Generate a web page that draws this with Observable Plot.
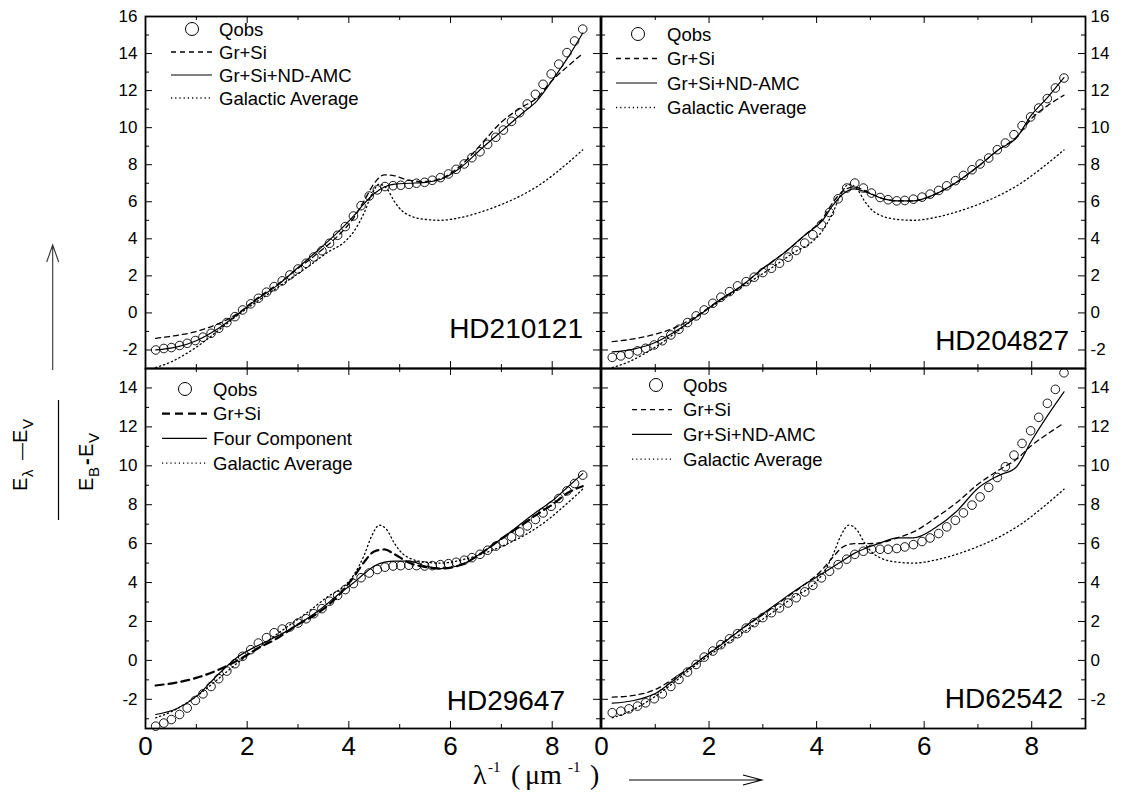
<!DOCTYPE html>
<html><head><meta charset="utf-8">
<script src="https://cdn.jsdelivr.net/npm/d3@7"></script>
<script src="https://cdn.jsdelivr.net/npm/@observablehq/plot@0.6"></script>
<style>
html,body{margin:0;padding:0;background:#fff;}
#wrap{position:relative;width:1124px;height:799px;overflow:hidden;background:#fff;}
#wrap svg{position:absolute;left:0;top:0;}
</style></head><body><div id="wrap"></div>
<script>
// ---------- data ----------
const qX = [0.2,0.36,0.51,0.67,0.82,0.98,1.13,1.29,1.44,1.6,1.76,1.91,2.07,2.22,2.38,2.53,2.69,2.84,3.0,3.16,3.31,3.47,3.62,3.78,3.93,4.09,4.24,4.4,4.56,4.71,4.87,5.02,5.18,5.33,5.49,5.64,5.8,5.96,6.11,6.27,6.42,6.58,6.73,6.89,7.04,7.2,7.36,7.51,7.67,7.82,7.98,8.13,8.29,8.44,8.6];
const qobsHD210121 = [-2.0,-1.92,-1.87,-1.76,-1.64,-1.49,-1.31,-1.1,-0.83,-0.52,-0.2,0.16,0.49,0.79,1.12,1.42,1.73,2.05,2.37,2.68,3.02,3.36,3.76,4.19,4.66,5.23,5.79,6.31,6.64,6.82,6.87,6.89,6.94,7.0,7.05,7.16,7.3,7.5,7.75,8.04,8.38,8.7,9.1,9.48,9.87,10.34,10.81,11.28,11.8,12.34,12.9,13.43,14.05,14.68,15.32];
const qobsHD204827 = [-2.4,-2.32,-2.22,-2.05,-1.91,-1.73,-1.5,-1.19,-0.88,-0.52,-0.16,0.16,0.52,0.85,1.15,1.46,1.69,1.93,2.18,2.41,2.68,3.01,3.37,3.77,4.22,4.76,5.42,6.16,6.74,7.01,6.74,6.47,6.23,6.11,6.05,6.07,6.14,6.25,6.41,6.61,6.86,7.14,7.42,7.73,8.04,8.36,8.81,9.17,9.62,10.11,10.58,11.06,11.57,12.14,12.68];
const qobsHD29647 = [-3.38,-3.22,-3.04,-2.78,-2.45,-2.06,-1.72,-1.34,-0.94,-0.55,-0.17,0.21,0.55,0.89,1.17,1.42,1.61,1.72,1.92,2.14,2.4,2.66,3.04,3.34,3.64,3.95,4.25,4.49,4.67,4.79,4.85,4.87,4.89,4.87,4.85,4.87,4.92,4.97,5.04,5.15,5.28,5.45,5.66,5.87,6.09,6.35,6.6,6.91,7.24,7.58,7.92,8.32,8.71,9.09,9.52];
const qobsHD62542 = [-2.69,-2.61,-2.49,-2.35,-2.18,-1.97,-1.72,-1.34,-0.98,-0.6,-0.21,0.17,0.48,0.81,1.11,1.37,1.66,1.94,2.2,2.45,2.69,2.95,3.22,3.52,3.86,4.24,4.58,4.92,5.2,5.45,5.61,5.71,5.71,5.71,5.75,5.83,5.95,6.11,6.29,6.52,6.86,7.2,7.58,7.98,8.4,8.89,9.4,9.95,10.55,11.15,11.8,12.49,13.21,13.93,14.78];

const curveX = [0.2,0.6,1.0,1.4,1.8,2.2,2.6,3.0,3.4,3.8,4.1,4.3,4.5,4.7,4.9,5.2,5.5,5.8,6.2,6.6,7.0,7.4,7.7,8.0,8.3,8.6];
const grSiHD210121 = [-1.37,-1.22,-1.0,-0.62,-0.05,0.8,1.55,2.4,3.25,4.2,5.15,6.05,7.0,7.45,7.4,7.15,7.1,7.25,7.95,9.1,10.3,11.1,11.6,12.55,13.3,14.0];
const fitHD210121  = [-2.0,-1.85,-1.5,-0.9,-0.1,0.75,1.5,2.45,3.4,4.4,5.25,5.9,6.45,6.8,6.95,7.0,7.05,7.2,7.85,8.85,9.8,10.75,11.45,12.55,13.75,15.1];
const grSiHD204827 = [-1.55,-1.4,-1.15,-0.75,-0.1,0.7,1.45,2.4,3.25,4.25,5.05,5.95,6.6,6.8,6.6,6.2,6.05,6.05,6.4,7.05,7.9,8.85,9.45,10.5,11.2,11.75];
const fitHD204827  = [-2.1,-1.95,-1.6,-0.95,-0.15,0.7,1.45,2.4,3.25,4.25,4.95,5.8,6.45,6.7,6.55,6.2,6.05,6.05,6.4,7.05,7.9,8.85,9.4,10.7,11.65,12.7];
const grSiHD29647  = [-1.29,-1.14,-0.9,-0.52,-0.02,0.6,1.15,1.85,2.45,3.35,4.3,5.05,5.6,5.7,5.45,5.0,4.8,4.72,4.9,5.5,6.25,6.95,7.5,8.0,8.6,8.95];
const fitHD29647   = [-2.78,-2.5,-1.85,-0.8,0.15,0.75,1.25,1.85,2.55,3.4,4.0,4.45,4.85,5.05,5.1,5.1,4.85,4.72,4.9,5.5,6.25,7.05,7.65,8.2,8.9,9.6];
const grSiHD62542  = [-1.89,-1.8,-1.5,-0.82,-0.05,0.8,1.6,2.35,3.15,3.95,4.65,5.3,5.85,6.0,6.0,6.05,6.3,6.6,7.3,8.1,9.05,9.8,10.3,11.05,11.65,12.2];
const fitHD62542   = [-2.2,-2.06,-1.7,-0.9,-0.05,0.75,1.6,2.4,3.2,3.95,4.45,4.8,5.15,5.5,5.75,6.05,6.3,6.3,6.8,7.65,8.85,9.52,9.9,11.3,12.6,13.8];

const galX   = [0.2,0.5,0.8,1.0,1.2,1.5,1.8,2.0,2.4,2.8,3.2,3.6,3.9,4.1,4.3,4.45,4.6,4.75,4.9,5.05,5.2,5.5,5.8,6.2,6.6,7.0,7.4,7.8,8.2,8.6];
const galAvg = [-2.95,-2.65,-2.2,-1.85,-1.45,-0.8,-0.15,0.25,1.0,1.75,2.5,3.3,3.8,4.4,5.4,6.4,6.95,6.7,6.0,5.5,5.25,5.05,5.0,5.15,5.45,5.85,6.35,7.0,7.85,8.8];

const stars = ["HD210121","HD204827","HD29647","HD62542"];
const legendLabels = ["Qobs","Gr+Si","Gr+Si+ND-AMC","Galactic Average"];
const legendLabelsHD29647 = ["Qobs","Gr+Si","Four Component","Galactic Average"];
const xMajor = [0,2,4,6,8];
const xMinor = [1,3,5,7];
const yMajorTop = [-2,0,2,4,6,8,10,12,14,16];
const yMinorTop = [-3,-1,1,3,5,7,9,11,13,15];
const yMajorBot = [-2,0,2,4,6,8,10,12,14];
const yMinorBot = [-3,-1,1,3,5,7,9,11,13,15];

// ---------- layout ----------
const W = 1124, H = 799;
const SANS = "'Liberation Sans', Arial, Helvetica, sans-serif";
const SERIF = "'Liberation Serif', 'Times New Roman', serif";
const panels = [
  {star: stars[0], qobs: qobsHD210121, grsi: grSiHD210121, fit: fitHD210121, labels: legendLabels,
   box: [145, 600, 16, 368], xDomain: [0, 8.95], yDomain: [-3, 16], yMaj: yMajorTop, yMin: yMinorTop,
   yAnchor: "left", xLabels: false, starPos: [583, 338],
   leg: {cx: 192, cy: 29, l0: 171, l1: 212, tx: 219, dy: 23}, thickDash: false},
  {star: stars[1], qobs: qobsHD204827, grsi: grSiHD204827, fit: fitHD204827, labels: legendLabels,
   box: [601, 1085, 16, 368], xDomain: [0, 9], yDomain: [-3, 16], yMaj: yMajorTop, yMin: yMinorTop,
   yAnchor: "right", xLabels: false, starPos: [1069, 350],
   leg: {cx: 638, cy: 34, l0: 616, l1: 657, tx: 667, dy: 24.5}, thickDash: false},
  {star: stars[2], qobs: qobsHD29647, grsi: grSiHD29647, fit: fitHD29647, labels: legendLabelsHD29647,
   box: [145, 600, 368, 728], xDomain: [0, 8.95], yDomain: [-3.5, 15], yMaj: yMajorBot, yMin: yMinorBot,
   yAnchor: "left", xLabels: true, starPos: [565, 710],
   leg: {cx: 185, cy: 389, l0: 162, l1: 207, tx: 213, dy: 24.7}, thickDash: true},
  {star: stars[3], qobs: qobsHD62542, grsi: grSiHD62542, fit: fitHD62542, labels: legendLabels,
   box: [601, 1085, 368, 728], xDomain: [0, 9], yDomain: [-3.5, 15], yMaj: yMajorBot, yMin: yMinorBot,
   yAnchor: "right", xLabels: true, starPos: [1063, 708],
   leg: {cx: 656, cy: 385, l0: 632, l1: 672, tx: 683, dy: 24.7}, thickDash: false}
];

const DOT_DASH = "1.2,3";
const wrap = document.getElementById("wrap");

function makePanel(p) {
  const [x0, x1, y0, y1] = p.box;
  const pw = x1 - x0, ph = y1 - y0;
  const obs = qX.map((x, i) => ({x, y: p.qobs[i]}));
  const grsi = curveX.map((x, i) => ({x, y: p.grsi[i]}));
  const fit = curveX.map((x, i) => ({x, y: p.fit[i]}));
  const gal = galX.map((x, i) => ({x, y: galAvg[i]}));
  const dashStyle = p.thickDash ? {strokeWidth: 2.2, strokeDasharray: "8,5"} : {strokeWidth: 1.3, strokeDasharray: "5,4"};
  const marks = [
    Plot.line(gal, {x: "x", y: "y", stroke: "black", strokeWidth: 1.3, strokeDasharray: DOT_DASH, curve: "monotone-x"}),
    Plot.line(grsi, {x: "x", y: "y", stroke: "black", ...dashStyle, curve: "monotone-x"}),
    Plot.line(fit, {x: "x", y: "y", stroke: "black", strokeWidth: 1.2, curve: "monotone-x"}),
    Plot.dot(obs, {x: "x", y: "y", r: 4.3, stroke: "black", fill: "none", strokeWidth: 0.9}),
    // inward ticks on all four sides
    Plot.tickX(xMajor, {x: d => d, insetTop: ph - 7, stroke: "black"}),
    Plot.tickX(xMajor, {x: d => d, insetBottom: ph - 7, stroke: "black"}),
    Plot.tickX(xMinor, {x: d => d, insetTop: ph - 4, stroke: "black"}),
    Plot.tickX(xMinor, {x: d => d, insetBottom: ph - 4, stroke: "black"}),
    Plot.tickY(p.yMaj, {y: d => d, insetRight: pw - 7, stroke: "black"}),
    Plot.tickY(p.yMaj, {y: d => d, insetLeft: pw - 7, stroke: "black"}),
    Plot.tickY(p.yMin, {y: d => d, insetRight: pw - 4, stroke: "black"}),
    Plot.tickY(p.yMin, {y: d => d, insetLeft: pw - 4, stroke: "black"}),
    Plot.frame({stroke: "black", strokeWidth: 1.8}),
    Plot.axisY({anchor: p.yAnchor, ticks: p.yMaj, tickSize: 0, tickPadding: p.yAnchor === "left" ? 8 : 5,
                tickFormat: d => String(d), fontSize: 17, label: null})
  ];
  if (p.xLabels) {
    marks.push(Plot.axisX({anchor: "bottom", ticks: xMajor, tickSize: 0, tickPadding: 8,
                           tickFormat: d => String(d), fontSize: 26, label: null}));
  }
  const svg = Plot.plot({
    width: W, height: H,
    marginLeft: x0, marginRight: W - x1, marginTop: y0, marginBottom: H - y1,
    x: {domain: p.xDomain, axis: null},
    y: {domain: p.yDomain, axis: null},
    style: {background: "transparent", fontFamily: SANS, color: "black", overflow: "visible"},
    marks
  });
  wrap.appendChild(svg);
}
panels.forEach(makePanel);

// ---------- overlay: legends, star names, axis titles ----------
const ov = d3.select(wrap).append("svg")
  .attr("width", W).attr("height", H)
  .style("font-family", SANS);

panels.forEach(p => {
  const g = ov.append("g");
  const L = p.leg;
  const dashStyle = p.thickDash ? {w: 2.2, d: "8,5"} : {w: 1.3, d: "5,4"};
  g.append("circle").attr("cx", L.cx).attr("cy", L.cy).attr("r", 6.5)
    .attr("fill", "none").attr("stroke", "black").attr("stroke-width", 1);
  const rows = [
    {w: dashStyle.w, d: dashStyle.d},
    {w: 1.2, d: null},
    {w: 1.3, d: DOT_DASH}
  ];
  rows.forEach((r, i) => {
    const y = L.cy + L.dy * (i + 1);
    const ln = g.append("line").attr("x1", L.l0).attr("x2", L.l1).attr("y1", y).attr("y2", y)
      .attr("stroke", "black").attr("stroke-width", r.w);
    if (r.d) ln.attr("stroke-dasharray", r.d);
  });
  p.labels.forEach((t, i) => {
    g.append("text").attr("x", L.tx).attr("y", L.cy + L.dy * i)
      .attr("dominant-baseline", "central").attr("font-size", 18.5).text(t);
  });
  g.append("text").attr("x", p.starPos[0]).attr("y", p.starPos[1])
    .attr("text-anchor", "end").attr("font-size", 28).text(p.star);
});

// y-axis title (fraction, rotated; local x = -screen y)
function rotText(bx, parts) {
  const t = ov.append("text").attr("transform", `translate(${bx},0) rotate(-90)`).attr("font-size", 20);
  parts.forEach(([s, pos, sub, extra]) => {
    const ts = t.append("tspan").attr("x", -pos).attr("y", sub ? 6 : 0).text(s);
    if (sub) ts.attr("font-size", 15);
    if (extra) Object.entries(extra).forEach(([k, v]) => ts.attr(k, v));
  });
}
rotText(27, [["E", 491, false], ["λ", 477, true], ["\u2014", 460, false, {"font-size": 17}], ["E", 443, false], ["V", 429, true]]);
rotText(93, [["E", 491, false], ["B", 477, true], ["-", 465, false, {"font-weight": "bold"}], ["E", 457, false], ["V", 443, true]]);

ov.append("line").attr("x1", 58.5).attr("x2", 58.5).attr("y1", 400).attr("y2", 520)
  .attr("stroke", "black").attr("stroke-width", 1.2);

// up arrow
ov.append("path").attr("d", "M52.7,370 L52.7,246 M46.7,262 L52.7,245 L58.7,262")
  .attr("fill", "none").attr("stroke", "#333").attr("stroke-width", 1.1);

// x-axis title
const xt = ov.append("text").attr("y", 784).attr("font-family", SERIF).attr("font-size", 28);
xt.append("tspan").attr("x", 473).text("λ");
xt.append("tspan").attr("x", 488).attr("dy", -12).attr("font-size", 15).text("-1");
xt.append("tspan").attr("x", 511).attr("dy", 12).text("(");
xt.append("tspan").attr("x", 525).text("μm");
xt.append("tspan").attr("x", 568).attr("dy", -12).attr("font-size", 15).text("-1");
xt.append("tspan").attr("x", 590).attr("dy", 12).text(")");

// right arrow
ov.append("path").attr("d", "M629,780 L762,780 M743,775 L762,780 L743,785")
  .attr("fill", "none").attr("stroke", "black").attr("stroke-width", 1.1);
</script>
</body></html>
